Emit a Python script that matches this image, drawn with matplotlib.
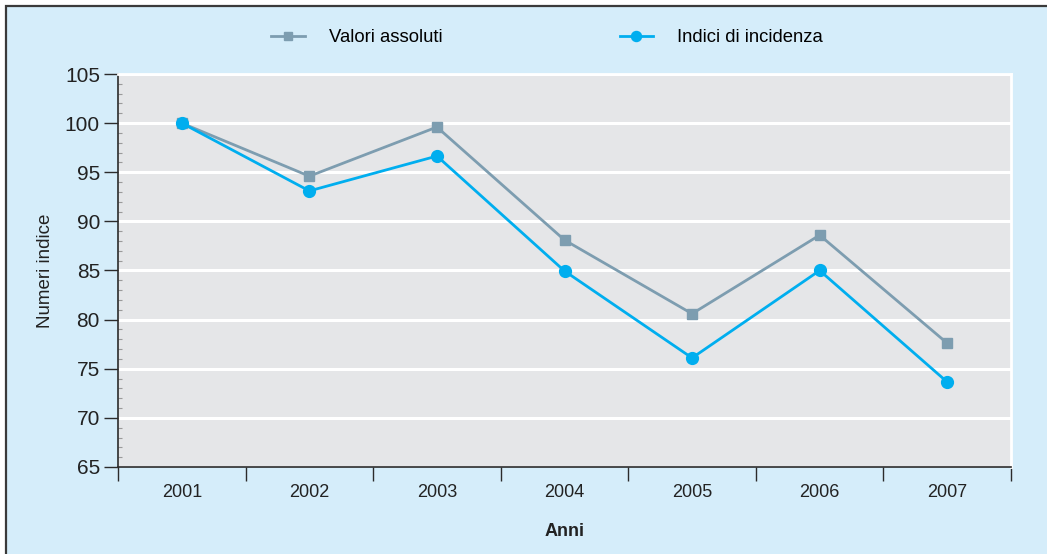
import matplotlib
matplotlib.use("Agg")
import matplotlib.pyplot as plt
from matplotlib.patches import Rectangle
from matplotlib.ticker import FixedLocator, MultipleLocator

plt.rcParams['font.family'] = ['Liberation Sans', 'DejaVu Sans']

anni = ['2001', '2002', '2003', '2004', '2005', '2006', '2007']
valori_assoluti = [100.0, 94.6, 99.6, 88.1, 80.6, 88.6, 77.6]
indici_incidenza = [100.0, 93.1, 96.65, 84.95, 76.1, 85.0, 73.65]

BG = '#d5edfa'
PLOT_BG = '#e5e6e8'
C_VAL = '#7d9db0'
C_IND = '#00aeef'
DARK = '#2b2b2b'
TXT = '#222222'

fig = plt.figure(figsize=(10.47, 5.54), dpi=100, facecolor='white')
# framed light-blue panel
fig.patches.append(Rectangle((6/1047, -0.1), 1.2, 1 - 6/554 + 0.1, transform=fig.transFigure,
                             facecolor=BG, edgecolor='#3a3a3a', linewidth=1.6, zorder=-10))

ax = fig.add_axes([118/1047, 1 - 467/554, (1011 - 118)/1047, (467 - 74)/554])
ax.set_facecolor(PLOT_BG)

x = list(range(len(anni)))
ax.plot(x, valori_assoluti, color=C_VAL, lw=2.0, marker='s', ms=7, label='Valori assoluti', zorder=3)
ax.plot(x, indici_incidenza, color=C_IND, lw=2.0, marker='o', ms=8.5, label='Indici di incidenza', zorder=4)

ax.set_xlim(-0.5, len(anni) - 0.5)
ax.set_ylim(65, 105)

# x ticks: boundaries as marks, centers as labels
ax.xaxis.set_major_locator(FixedLocator([i - 0.5 for i in range(len(anni) + 1)]))
ax.xaxis.set_minor_locator(FixedLocator(x))
ax.set_xticklabels([], minor=False)
ax.set_xticklabels(anni, minor=True)
ax.tick_params(axis='x', which='major', length=10, width=1, color=DARK, direction='out')
ax.tick_params(axis='x', which='minor', length=0, labelsize=13, pad=12, labelcolor=TXT)

ax.yaxis.set_major_locator(MultipleLocator(5))
ax.yaxis.set_minor_locator(MultipleLocator(1))
ax.tick_params(axis='y', which='major', length=10, width=1, color=DARK, direction='out',
               labelsize=15, pad=3, labelcolor=TXT)
ax.tick_params(axis='y', which='minor', length=3, width=0.8, color='#9a9a9a', direction='in')

ax.grid(axis='y', which='major', color='white', lw=2.2)
ax.set_axisbelow(True)

for s in ['top', 'right']:
    ax.spines[s].set_color('white')
    ax.spines[s].set_linewidth(2)
for s in ['left', 'bottom']:
    ax.spines[s].set_color(DARK)
    ax.spines[s].set_linewidth(1.2)

ax.set_ylabel('Numeri indice', fontsize=13.5, color=TXT, labelpad=8)
ax.set_xlabel('Anni', fontsize=13, fontweight='bold', color=TXT, labelpad=16)

leg = fig.legend(loc='center', bbox_to_anchor=(547/1047, 1 - 38/554), ncol=2, frameon=False,
                 fontsize=13.3, handlelength=1.8, handletextpad=1.3, columnspacing=9.6,
                 markerscale=0.85)

fig.savefig('out.png', dpi=100, facecolor=fig.get_facecolor())
